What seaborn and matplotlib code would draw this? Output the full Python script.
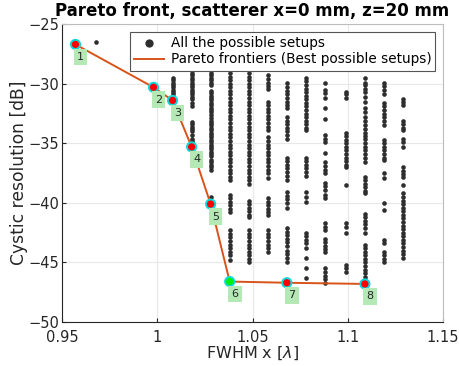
import pandas as pd
import matplotlib
matplotlib.use('Agg')
import matplotlib.pyplot as plt
import seaborn as sns

# FWHM x of every column of tested setups, and the cystic resolution of each setup
setup_fwhm = [0.968, 1.008, 1.018, 1.028, 1.038, 1.048, 1.058, 1.068,
              1.078, 1.088, 1.099, 1.109, 1.119, 1.129]
setup_cr = [
    [-26.5],
    [-29.5, -29.7, -29.9, -30.1, -30.3, -30.5, -30.7, -30.9, -31.1],
    [-29.1, -29.3, -29.5, -29.7, -29.9, -30.1, -30.3, -30.5, -30.7, -30.9,
     -31.1, -31.3, -31.6, -31.9, -33.2, -33.4, -33.6, -33.8, -34.0, -34.3,
     -34.6, -34.8, -35.0],
    [-29.1, -29.3, -29.5, -29.7, -29.9, -30.1, -30.6, -30.8, -31.0, -31.2,
     -31.4, -31.6, -31.8, -32.0, -32.2, -32.4, -32.6, -32.9, -33.1, -33.3,
     -33.5, -33.7, -33.9, -34.1, -34.3, -34.5, -34.7, -34.9, -35.1, -35.3,
     -35.5, -35.7, -35.9, -36.1, -36.4, -36.6, -36.8, -37.0, -37.2, -39.5],
    [-29.1, -29.4, -29.7, -30.0, -30.3, -30.6, -30.9, -31.2, -31.5, -31.8,
     -32.1, -32.4, -32.7, -33.0, -33.3, -33.6, -33.9, -34.2, -34.5, -34.8,
     -35.1, -35.4, -35.7, -36.0, -36.3, -36.6, -36.9, -37.2, -37.5, -37.8,
     -38.1, -39.3, -39.6, -39.9, -40.2, -40.5, -40.8, -42.3, -42.6, -42.9,
     -43.2, -43.5, -43.8, -44.1, -44.4, -44.8],
    [-29.1, -29.4, -29.7, -30.0, -30.3, -30.6, -30.9, -31.2, -31.5, -31.8,
     -32.1, -32.4, -32.7, -33.0, -33.3, -33.6, -33.9, -34.2, -34.5, -34.8,
     -35.1, -35.4, -35.7, -36.0, -36.3, -36.6, -36.9, -37.2, -37.5, -37.8,
     -38.1, -38.4, -39.8, -40.1, -40.4, -40.7, -41.0, -41.2, -42.3, -42.6,
     -42.9, -43.2, -43.5, -43.8, -44.1, -44.4, -44.7, -45.0],
    [-29.3, -29.6, -29.9, -30.2, -30.4, -31.5, -31.8, -32.1, -32.4, -32.7,
     -33.0, -33.3, -33.6, -33.9, -34.5, -34.8, -35.1, -35.4, -35.7, -36.0,
     -36.3, -36.6, -36.9, -37.2, -37.5, -37.9, -39.6, -39.9, -40.2, -40.5,
     -40.8, -41.0, -42.3, -42.6, -42.9, -43.2, -43.5, -43.8, -44.1],
    [-29.9, -30.3, -30.6, -30.9, -31.2, -31.5, -31.8, -32.0, -32.8, -33.1,
     -33.4, -33.7, -34.0, -34.3, -34.6, -36.2, -36.5, -36.8, -37.1, -37.4,
     -37.7, -38.1, -39.1, -39.4, -39.7, -40.0, -40.4, -42.1, -42.4, -42.7,
     -43.0, -43.3, -43.6, -44.0, -44.3, -44.6, -45.0],
    [-29.5, -29.8, -30.1, -30.4, -30.7, -31.0, -31.3, -31.6, -31.9, -32.2,
     -32.5, -32.8, -33.1, -33.4, -33.7, -33.9, -36.2, -36.5, -36.8, -37.1,
     -37.4, -37.7, -39.1, -39.5, -39.9, -42.5, -42.8, -43.1, -43.4, -43.8,
     -44.6, -45.5, -46.3],
    [-29.9, -30.5, -30.8, -31.2, -32.0, -33.0, -34.3, -34.6, -34.9, -35.8,
     -36.6, -36.9, -37.2, -37.5, -38.3, -38.6, -38.9, -39.3, -39.6, -41.7,
     -42.0, -42.3, -43.0, -43.3, -43.6, -43.9, -44.1, -45.5, -45.8, -46.1,
     -46.4, -46.7],
    [-30.7, -30.9, -31.2, -34.1, -34.4, -34.7, -35.0, -35.3, -35.6, -35.9,
     -36.2, -36.5, -36.8, -37.0, -38.5, -41.7, -42.0, -42.5, -45.2, -45.5,
     -45.8],
    [-29.5, -29.9, -30.1, -30.4, -30.7, -31.1, -31.5, -32.0, -32.4, -32.8,
     -33.1, -33.5, -33.8, -34.1, -34.4, -34.6, -35.0, -35.3, -35.6, -35.9,
     -36.2, -36.6, -37.8, -38.1, -38.4, -38.7, -39.0, -39.2, -40.9, -41.2,
     -41.5, -41.8, -42.1, -42.5, -43.5, -43.8, -44.1, -44.4, -44.7, -45.0,
     -45.3, -45.6, -45.9, -46.2, -46.5, -46.8],
    [-29.9, -30.2, -30.5, -30.9, -31.6, -31.9, -32.2, -32.5, -32.8, -33.1,
     -33.5, -34.7, -35.0, -35.3, -35.6, -35.9, -36.2, -36.4, -37.5, -37.9,
     -40.0, -40.6, -43.1, -43.4, -44.1, -44.4, -44.7, -45.0],
    [-31.3, -31.5, -31.8, -33.1, -33.4, -33.7, -33.9, -34.6, -34.9, -35.3,
     -37.0, -37.3, -37.6, -37.8, -38.5, -39.2, -39.5, -39.8, -40.1, -40.4,
     -40.7, -41.0, -41.3, -41.6, -41.9, -42.2, -42.5, -42.8, -43.1, -43.4,
     -43.7, -44.0, -44.3, -44.6],
]

# Pareto optimal setups
pareto_fwhm = [0.957, 0.998, 1.008, 1.018, 1.028, 1.038, 1.068, 1.109]
pareto_cr = [-26.7, -30.3, -31.4, -35.3, -40.1, -46.6, -46.7, -46.8]
pareto_ids = ['1', '2', '3', '4', '5', '6', '7', '8']
best_id = '6'

rows = []
for fwhm, crs in zip(setup_fwhm, setup_cr):
    for cr in crs:
        rows.append({'fwhm': fwhm, 'cr': cr})
setups = pd.DataFrame(rows)
pareto = pd.DataFrame({'fwhm': pareto_fwhm, 'cr': pareto_cr, 'id': pareto_ids})

plt.rcParams['font.family'] = ['DejaVu Sans']
text_col = '#262626'

fig = plt.figure(figsize=(4.6, 3.66), dpi=100)
ax = fig.add_axes([0.135, 0.12, 0.828, 0.814])

sns.scatterplot(data=setups, x='fwhm', y='cr', ax=ax, color='#2e2e2e',
                s=11, linewidth=0, label='All the possible setups', zorder=3)
sns.lineplot(data=pareto, x='fwhm', y='cr', ax=ax, sort=False,
             color='#D95319', linewidth=1.4,
             label='Pareto frontiers (Best possible setups)', zorder=4)

face = ['#00ee00' if i == best_id else '#ff0000' for i in pareto_ids]
ax.scatter(pareto['fwhm'], pareto['cr'], s=44, c=face,
           edgecolors='#10d8d8', linewidths=1.4, zorder=5)

for _, r in pareto.iterrows():
    ax.annotate(r['id'], (r['fwhm'], r['cr']), xytext=(3.6, -9),
                textcoords='offset points', ha='center', va='center',
                fontsize=8, color=text_col, zorder=6,
                bbox=dict(boxstyle='square,pad=0.3', fc='#b4e8b4',
                          ec='none'))

ax.set_xlim(0.95, 1.15)
ax.set_ylim(-50, -25)
ax.set_xticks([0.95, 1, 1.05, 1.1, 1.15])
ax.set_xticklabels(['0.95', '1', '1.05', '1.1', '1.15'])
ax.set_yticks([-50, -45, -40, -35, -30, -25])
ax.grid(True, color='#e8e8e8', linewidth=0.8)
ax.set_axisbelow(True)
ax.tick_params(direction='in', length=3, labelsize=10.5, colors='#262626',
               top=False, right=False)
ax.tick_params(axis='x', pad=5.5)
ax.tick_params(axis='y', pad=2)
for sp in ax.spines.values():
    sp.set_color('#bdbdbd')
    sp.set_linewidth(0.8)
ax.spines['bottom'].set_color('#262626')
ax.spines['left'].set_color('#262626')

ax.set_xlabel('FWHM x [$\\lambda$]', fontsize=11.5, color=text_col, labelpad=0)
ax.set_ylabel('Cystic resolution [dB]', fontsize=12.3, color=text_col,
              labelpad=0)
ax.set_title('Pareto front, scatterer x=0 mm, z=20 mm', fontsize=12,
             fontweight='bold', color='black', pad=6)

leg = ax.legend(loc='upper right', fontsize=9.8, fancybox=False, framealpha=1,
                edgecolor='#555555', markerscale=1.8, borderaxespad=0.55,
                handlelength=2.2, borderpad=0.3, labelspacing=0.2,
                handletextpad=0.5)
leg.set_zorder(10)
leg.get_frame().set_linewidth(0.8)

plt.savefig('out.png', dpi=100)
